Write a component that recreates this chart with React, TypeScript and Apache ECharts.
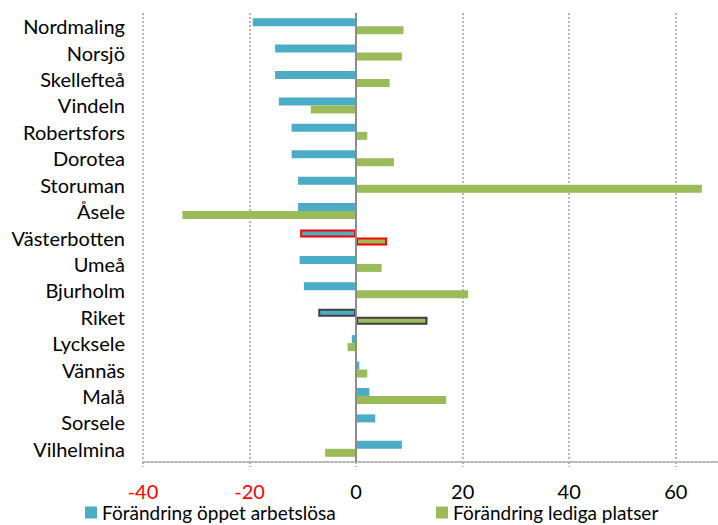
import React, { useEffect, useRef } from "react";
import * as echarts from "echarts";

const categories = [
  "Nordmaling", "Norsjö", "Skellefteå", "Vindeln", "Robertsfors", "Dorotea",
  "Storuman", "Åsele", "Västerbotten", "Umeå", "Bjurholm", "Riket",
  "Lycksele", "Vännäs", "Malå", "Sorsele", "Vilhelmina",
];
const unemployedChange = [
  -19.4, -15.2, -15.2, -14.5, -12.1, -12.1, -10.9, -10.9, -10.5, -10.6, -9.8,
  -7.1, -0.8, 0.6, 2.5, 3.6, 8.6,
];
const vacancyChange = [
  8.9, 8.6, 6.3, -8.5, 2.1, 7.1, 64.9, -32.6, 5.8, 4.8, 21.0, 13.4, -1.6, 2.1,
  16.9, 0, -5.8,
];
const seriesNames = ["Förändring öppet arbetslösa", "Förändring lediga platser"];
const highlightBorders: Record<string, string> = {
  Västerbotten: "#ff0000",
  Riket: "#404040",
};

const FONT = "Lato";
const FS = 20;
const BLUE = "#4BACC6";
const GREEN = "#9BBB59";

function buildData(values: number[]) {
  return values.map((v, i) => {
    const b = highlightBorders[categories[i]];
    return b
      ? { value: v, itemStyle: { borderColor: b, borderWidth: 2 } }
      : { value: v };
  });
}

export default function App() {
  const ref = useRef<HTMLDivElement>(null);
  useEffect(() => {
    if (!ref.current) return;
    const chart = echarts.init(ref.current, undefined, { renderer: "svg" });
    chart.setOption({
      animation: false,
      textStyle: { fontFamily: FONT },
      grid: { left: 143, top: 13, width: 586, height: 449, containLabel: false },
      legend: [
        {
          data: [seriesNames[0]],
          left: 85,
          top: 503,
          padding: 0,
          itemWidth: 12,
          itemHeight: 12,
          icon: "rect",
          textStyle: { fontFamily: FONT, fontSize: 19, color: "#000" },
        },
        {
          data: [seriesNames[1]],
          left: 436,
          top: 503,
          padding: 0,
          itemWidth: 12,
          itemHeight: 12,
          icon: "rect",
          textStyle: { fontFamily: FONT, fontSize: 19, color: "#000" },
        },
      ],
      xAxis: {
        type: "value",
        min: -40,
        max: 70,
        interval: 20,
        axisLine: { show: true, lineStyle: { color: "#b5b5b5", type: "dotted", width: 2 } },
        axisTick: { show: true, length: 5, lineStyle: { color: "#b5b5b5", type: "dotted", width: 2 } },
        splitLine: { show: true, lineStyle: { color: "#b5b5b5", type: "dotted", width: 2 } },
        axisLabel: {
          showMaxLabel: false,
          margin: 19,
          fontSize: FS,
          fontFamily: FONT,
          color: (v: any) => (Number(v) < 0 ? "#ff0000" : "#000000"),
        },
      },
      yAxis: {
        type: "category",
        inverse: true,
        data: categories,
        axisLine: { show: false },
        axisTick: { show: false },
        splitLine: { show: false },
        axisLabel: { fontSize: FS, fontFamily: FONT, color: "#000", margin: 18 },
      },
      series: [
        {
          name: seriesNames[0],
          type: "bar",
          data: buildData(unemployedChange),
          barWidth: 8,
          barGap: "0%",
          itemStyle: { color: BLUE },
          markLine: {
            silent: true,
            symbol: "none",
            label: { show: false },
            lineStyle: { color: "#8c8c8c", type: "solid", width: 2 },
            data: [{ xAxis: 0 }],
            z: 10,
          },
        },
        {
          name: seriesNames[1],
          type: "bar",
          data: buildData(vacancyChange),
          barWidth: 8,
          barGap: "0%",
          itemStyle: { color: GREEN },
        },
      ],
    });
    return () => chart.dispose();
  }, []);
  return (
    <div style={{ position: "fixed", left: 0, top: 0, width: 718, height: 525, overflow: "hidden", background: "#fff" }}>
      <div ref={ref} style={{ width: 760, height: 525 }} />
    </div>
  );
}
